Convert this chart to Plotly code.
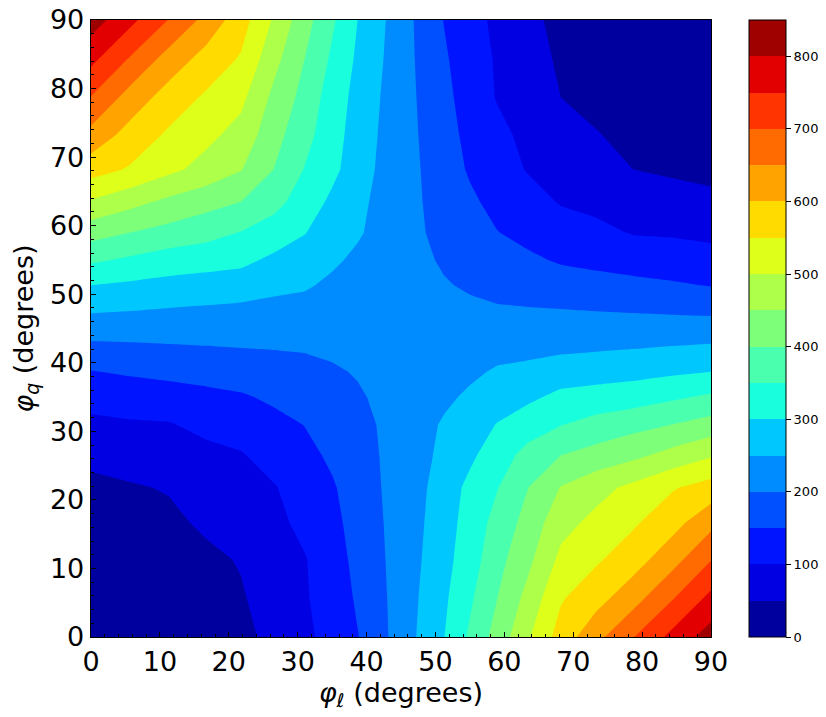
import plotly.graph_objects as go

# grid positions (degrees) of the sampled points, same for both axes
phi = [0, 5.7, 11.3, 16.7, 21.8, 26.6, 31.0, 35.0, 38.7, 42.0, 45.0,
       48.0, 51.3, 55.0, 59.0, 63.4, 68.2, 73.3, 78.7, 84.3, 90]

# values for phi_l <= phi_q (the picture is symmetric
# under swapping the two angles); row j is phi_q = phi[j], entries phi_l = phi[0..j]
z_upper = [
    [0],
    [2, 5],
    [8, 14, 25],
    [21, 32, 41, 57],
    [38, 46, 53, 70, 84],
    [63, 70, 77, 88, 97, 119],
    [89, 95, 97, 112, 122, 137, 151],
    [118, 123, 128, 137, 145, 158, 170, 180],
    [148, 156, 163, 168, 172, 178, 186, 195, 203],
    [186, 189, 193, 196, 199, 201, 203, 207, 211, 213],
    [222, 222, 221, 221, 220, 220, 220, 219, 218, 218, 218],
    [260, 255, 250, 246, 242, 239, 237, 231, 225, 222, 218, 213],
    [300, 292, 285, 280, 275, 261, 255, 242, 233, 225, 218, 211, 203],
    [358, 342, 326, 319, 312, 290, 277, 257, 242, 231, 219, 207, 195, 180],
    [420, 400, 384, 368, 348, 327, 302, 277, 255, 237, 220, 203, 186, 170, 151],
    [493, 465, 437, 417, 399, 365, 327, 290, 261, 239, 220, 201, 178, 158, 137, 119],
    [571, 545, 512, 483, 452, 399, 348, 312, 275, 242, 220, 199, 172, 145, 122, 97, 84],
    [635, 581, 543, 513, 483, 417, 368, 319, 280, 246, 221, 196, 168, 137, 112, 88, 70, 52],
    [698, 630, 578, 543, 512, 437, 384, 326, 285, 250, 221, 193, 163, 128, 97, 77, 50, 39, 25],
    [763, 695, 630, 581, 545, 465, 400, 342, 292, 255, 222, 189, 156, 123, 95, 70, 43, 30, 14, 5],
    [824, 763, 698, 635, 571, 493, 420, 358, 300, 260, 222, 186, 148, 118, 89, 61, 38, 21, 8, 2, 0],
]

levels_start, levels_end, levels_step = 0, 850, 50
cbar_ticks = list(range(0, 801, 100))
axis_ticks = list(range(0, 91, 10))

band_colors = ["#00009f", "#0000e3", "#0014ff", "#0050ff", "#008cff", "#00c8ff",
               "#19ffde", "#4affad", "#7dff7a", "#adff49", "#deff19", "#ffdb00",
               "#ffa300", "#ff6b00", "#ff3400", "#e30000", "#9f0000"]

n = len(phi)
Z = [[z_upper[max(i, j)][min(i, j)] for i in range(n)] for j in range(n)]

nb = len(band_colors)
nc = nb + 1
# colorscale used by the contour fills (plotly maps band k to fraction (k+1)/nc)
cs_fill = []
for k, c in enumerate(band_colors):
    lo = 0.0 if k == 0 else (k + 0.5) / nc
    hi = 1.0 if k == nb - 1 else (k + 1.5) / nc
    cs_fill.append([lo, c])
    cs_fill.append([hi, c])

# colorscale for the stand-alone colour bar: 17 equal bands from 0 to 850
cs_bar = []
for k, c in enumerate(band_colors):
    cs_bar.append([k / nb, c])
    cs_bar.append([(k + 1) / nb, c])

fig = go.Figure()
fig.add_trace(go.Contour(
    x=phi, y=phi, z=Z,
    colorscale=cs_fill,
    autocontour=False,
    contours=dict(start=levels_start, end=levels_end, size=levels_step,
                  coloring="fill", showlines=False),
    line=dict(width=0, smoothing=0),
    showscale=False,
    hoverinfo="skip",
))

fig.add_trace(go.Scatter(
    x=[45], y=[45], mode="markers", hoverinfo="skip", showlegend=False,
    marker=dict(size=1, opacity=0, color=[levels_start],
                cmin=levels_start, cmax=levels_end, colorscale=cs_bar,
                showscale=True,
                colorbar=dict(
                    thickness=37, thicknessmode="pixels",
                    len=1, lenmode="fraction", y=0.5, yanchor="middle",
                    x=1.0613, xanchor="left", xpad=0, ypad=0,
                    outlinewidth=1, outlinecolor="black",
                    tickmode="array", tickvals=cbar_ticks,
                    ticks="outside", ticklen=5, tickcolor="black",
                    tickfont=dict(size=13, family="DejaVu Sans", color="black"),
                )),
))

axis_common = dict(
    range=[0, 90], tickvals=axis_ticks, ticks="inside", ticklen=5, tickwidth=1,
    tickcolor="black",
    minor=dict(ticks="inside", ticklen=3, dtick=2, tick0=0, tickcolor="black", tickwidth=1),
    showline=True, linecolor="black", linewidth=1.3, mirror=True,
    showgrid=False, zeroline=False, automargin=False,
    tickfont=dict(size=27, family="DejaVu Sans", color="black"),
)

fig.update_layout(
    width=826, height=717,
    margin=dict(l=91, r=115, t=20, b=80, autoexpand=False),
    paper_bgcolor="white", plot_bgcolor="white",
    showlegend=False,
    hovermode=False,
    xaxis=dict(**axis_common,
               title=dict(text="<i>φ</i><sub><i>ℓ</i></sub> (degrees)",
                          font=dict(size=27, family="DejaVu Sans", color="black"),
                          standoff=6)),
    yaxis=dict(**axis_common,
               title=dict(text="<i>φ</i><sub><i>q</i></sub> (degrees)",
                          font=dict(size=27, family="DejaVu Sans", color="black"),
                          standoff=8)),
)

fig.write_html("out.html",
               config={"displayModeBar": False, "staticPlot": True},
               post_script="document.body.style.margin='0px';"
                           "document.body.style.overflow='hidden';")
